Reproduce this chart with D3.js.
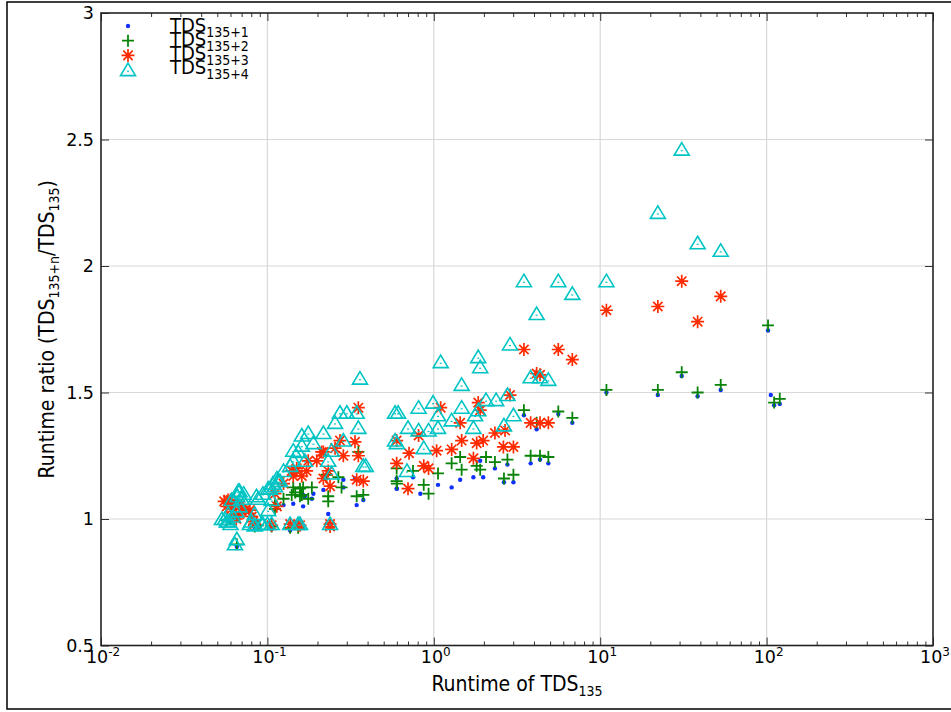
<!DOCTYPE html>
<html>
<head>
<meta charset="utf-8">
<script src="https://cdn.jsdelivr.net/npm/d3@7"></script>
<style>
body { margin: 0; background: #fff; }
</style>
</head>
<body>
<div id="chart"></div>
<script>

// values: [runtime of TDS135, runtime ratio]
var tds1 = [[102,1.745],[106,1.49],[111,1.45],[120,1.455],[53,1.51],[38.5,1.485],[30.9,1.565],[22.2,1.49],[10.9,1.50],[6.8,1.38],[5.6,1.415],[3.48,1.41],[4.15,1.355],
  [3.82,1.22],[4.35,1.235],[4.88,1.22],[2.77,1.215],[2.33,1.20],[1.90,1.23],[1.73,1.165],[1.98,1.165],[1.44,1.155],[1.28,1.125],[3.01,1.145],[2.64,1.145],[1.06,1.135],[0.83,1.10],[0.60,1.12],[0.75,1.165],
  [0.286,1.155],[0.286,1.125],[0.217,1.115],[0.189,1.10],[0.164,1.095],[0.143,1.06],[0.164,1.05],[0.125,1.055],[0.232,1.02],[0.344,1.055],[0.377,1.075],[0.598,1.16],[0.598,1.12],[0.336,1.16],[0.168,1.09],[0.185,1.08],[0.161,1.10],
  [0.060,0.99],[0.065,1.0],[0.070,1.04],[0.0655,0.89],[0.084,0.96],[0.106,0.96],[0.137,0.955]];

var tds2 = [[102,1.765],[111,1.46],[120,1.475],[53,1.53],[38.5,1.50],[30.9,1.58],[22.2,1.51],[10.9,1.51],[6.8,1.40],[5.6,1.425],[3.48,1.43],[4.15,1.38],
  [3.82,1.25],[4.35,1.25],[4.88,1.245],[2.77,1.235],[2.33,1.225],[2.06,1.245],[1.81,1.21],[1.90,1.195],[1.44,1.245],[1.47,1.195],[1.28,1.22],[3.01,1.175],[2.64,1.16],[1.06,1.18],[0.87,1.135],[0.93,1.10],[0.60,1.14],[0.75,1.19],
  [0.352,1.265],[0.267,1.165],[0.227,1.175],[0.279,1.125],[0.185,1.125],[0.164,1.125],[0.143,1.125],[0.161,1.095],[0.140,1.095],[0.176,1.08],[0.125,1.08],[0.111,1.055],[0.068,1.05],[0.232,1.07],[0.232,1.09],[0.344,1.09],[0.377,1.095],[0.598,1.20],[0.598,1.15],[0.157,1.09],
  [0.070,1.05],[0.111,1.04],[0.147,1.105],[0.157,1.12],[0.0655,0.90],[0.084,0.97],[0.088,0.975],[0.106,0.97],[0.137,0.965],[0.153,0.965],
  [0.060,1.0],[0.057,0.995],[0.064,1.02]];

var tds3 = [[30.9,1.94],[53,1.88],[22.2,1.84],[10.9,1.825],[38.5,1.78],[3.48,1.67],[5.6,1.67],[6.8,1.63],[4.15,1.575],[4.35,1.57],
  [1.10,1.44],[1.85,1.46],[2.87,1.49],[1.90,1.43],[1.44,1.38],[3.82,1.38],[4.35,1.38],[4.88,1.38],[2.68,1.35],[2.33,1.34],[0.81,1.33],[1.47,1.31],[1.81,1.30],[1.98,1.31],[0.71,1.26],[1.04,1.27],[1.28,1.275],[2.62,1.285],[3.01,1.285],[0.87,1.21],[0.93,1.20],[1.73,1.24],[0.70,1.12],
  [0.352,1.44],[0.273,1.31],[0.336,1.305],[0.217,1.265],[0.255,1.28],[0.286,1.25],[0.352,1.25],[0.198,1.23],[0.176,1.23],[0.150,1.20],[0.172,1.19],[0.143,1.17],[0.232,1.19],[0.217,1.16],[0.238,1.13],[0.344,1.155],[0.377,1.15],[0.125,1.14],[0.111,1.10],
  [0.060,1.075],[0.061,1.055],[0.068,1.05],[0.0785,1.035],[0.082,0.99],[0.238,0.98],[0.157,0.975],[0.238,0.97],[0.598,1.31],[0.598,1.22],[0.212,1.265],
  [0.0638,1.06],[0.058,1.075],[0.061,1.04],[0.0733,1.035],[0.0805,1.01],[0.114,1.05],[0.140,1.19],[0.150,1.19],[0.161,1.17],[0.084,0.98],[0.137,0.98],[0.153,0.975],[0.106,0.975],
  [0.055,1.07],[0.057,1.05],[0.065,1.0],[0.068,1.02]];

var tds4 = [[30.9,2.46],[22.2,2.21],[38.5,2.09],[53,2.06],[3.48,1.94],[5.6,1.94],[6.8,1.89],[10.9,1.94],[4.15,1.81],[2.87,1.69],[3.82,1.56],[4.35,1.56],[4.88,1.55],
  [1.10,1.62],[1.85,1.64],[1.90,1.60],[1.47,1.53],[0.61,1.42],[0.81,1.44],[0.99,1.46],[1.47,1.44],[2.06,1.47],[2.37,1.47],[2.77,1.49],[1.06,1.41],[1.28,1.39],[1.77,1.41],[1.85,1.43],[3.01,1.41],[0.70,1.36],[0.81,1.35],[0.93,1.35],[1.06,1.36],[1.73,1.36],[2.64,1.37],[0.60,1.30],[0.87,1.28],[0.69,1.19],
  [0.36,1.555],[0.273,1.42],[0.30,1.42],[0.344,1.42],[0.255,1.38],[0.176,1.34],[0.217,1.34],[0.352,1.36],[0.189,1.30],[0.286,1.31],[0.161,1.29],[0.143,1.27],[0.243,1.27],[0.143,1.23],[0.168,1.23],[0.232,1.23],[0.377,1.21],[0.39,1.21],
  [0.125,1.19],[0.116,1.15],[0.111,1.13],[0.101,1.12],[0.094,1.10],[0.086,1.09],[0.088,1.08],[0.068,1.11],[0.061,1.075],[0.062,1.01],[0.060,0.98],[0.0785,0.98],[0.094,0.98],[0.10,0.98],[0.137,0.98],[0.157,0.98],[0.238,0.98],[0.243,1.18],[0.585,1.42],[0.585,1.31],
  [0.0668,1.11],[0.058,0.99],[0.0655,0.92],[0.0638,0.90],[0.104,1.12],[0.108,1.14],[0.114,1.16],[0.137,1.21],[0.153,1.265],[0.161,1.33],[0.084,0.975],[0.080,0.99],[0.0925,0.98],[0.106,0.98],[0.153,0.98],[0.084,1.02],[0.101,1.035],[0.119,1.15],[0.106,1.075],
  [0.0556,1.0],[0.057,0.99],[0.0533,1.0],[0.058,1.02],[0.065,1.03],[0.068,1.05],[0.070,1.08],[0.072,1.10],[0.066,1.09]];

var legendSubs = ["135+1","135+2","135+3","135+4"];
var xTicks = [1e-2,1e-1,1,10,100,1000];
var xExponents = ["-2","-1","0","1","2","3"];
var yTicks = [0.5,1,1.5,2,2.5,3];
var yTickLabels = ["0.5","1","1.5","2","2.5","3"];

var W = 951, H = 712;
var pLeft = 101, pRight = 933, pTop = 13, pBottom = 645.5;
var condensed = "'DejaVu Sans Condensed', 'DejaVu Sans', sans-serif";
var regular = "'DejaVu Sans', sans-serif";

var x = d3.scaleLog().domain([1e-2, 1e3]).range([pLeft, pRight]);
var y = d3.scaleLinear().domain([0.5, 3]).range([pBottom, pTop]);

var svg = d3.select("#chart").append("svg")
  .attr("width", W)
  .attr("height", H);

svg.append("rect")
  .attr("x", 7).attr("y", 2)
  .attr("width", 980).attr("height", 707)
  .attr("fill", "none")
  .attr("stroke", "#000")
  .attr("stroke-width", 1.5);

// grid
svg.append("g").selectAll("line").data(xTicks.slice(1, -1))
  .enter().append("line")
  .attr("x1", function(d) { return x(d); }).attr("x2", function(d) { return x(d); })
  .attr("y1", pTop).attr("y2", pBottom)
  .attr("stroke", "#d8d8d8").attr("stroke-width", 1.2);
svg.append("g").selectAll("line").data(yTicks.slice(1, -1))
  .enter().append("line")
  .attr("y1", function(d) { return y(d); }).attr("y2", function(d) { return y(d); })
  .attr("x1", pLeft).attr("x2", pRight)
  .attr("stroke", "#d8d8d8").attr("stroke-width", 1.2);

// minor ticks on the log axis
var xMinor = [];
for (var e = -2; e < 3; e++) {
  for (var m = 2; m < 10; m++) xMinor.push(m * Math.pow(10, e));
}

function tickAxis(axis, tx, ty) {
  var g = svg.append("g").attr("transform", "translate(" + tx + "," + ty + ")").call(axis);
  g.select(".domain").remove();
  g.selectAll("line").attr("stroke", "#333");
  g.selectAll("text").remove();
}
tickAxis(d3.axisBottom(x).tickValues(xTicks).tickSize(-8).tickSizeOuter(0), 0, pBottom);
tickAxis(d3.axisBottom(x).tickValues(xMinor).tickSize(-4).tickSizeOuter(0), 0, pBottom);
tickAxis(d3.axisTop(x).tickValues(xTicks).tickSize(-8).tickSizeOuter(0), 0, pTop);
tickAxis(d3.axisTop(x).tickValues(xMinor).tickSize(-4).tickSizeOuter(0), 0, pTop);
tickAxis(d3.axisLeft(y).tickValues(yTicks).tickSize(-8).tickSizeOuter(0), pLeft, 0);
tickAxis(d3.axisRight(y).tickValues(yTicks).tickSize(-8).tickSizeOuter(0), pRight, 0);

// tick labels
var xl = svg.append("g").selectAll("text").data(xTicks)
  .enter().append("text")
  .attr("x", function(d) { return x(d) + 2; })
  .attr("y", 663)
  .attr("text-anchor", "middle")
  .style("font-family", regular)
  .style("font-size", "17.5px")
  .style("fill", "#000");
xl.append("tspan").text("10");
xl.append("tspan").attr("dy", -7).style("font-size", "12px").text(function(d, i) { return xExponents[i]; });

svg.append("g").selectAll("text").data(yTicks)
  .enter().append("text")
  .attr("x", 94)
  .attr("y", function(d) { return y(d) + 6; })
  .attr("text-anchor", "end")
  .style("font-family", regular)
  .style("font-size", "17.5px")
  .text(function(d, i) { return yTickLabels[i]; });

// axis titles
var xt = svg.append("text")
  .attr("x", (pLeft + pRight) / 2)
  .attr("y", 691)
  .attr("text-anchor", "middle")
  .style("font-family", condensed)
  .style("font-size", "21px");
xt.append("tspan").text("Runtime of TDS");
xt.append("tspan").attr("dy", 5).style("font-size", "14px").text("135");

var yt = svg.append("text")
  .attr("transform", "translate(54," + ((pTop + pBottom) / 2) + ")rotate(-90)")
  .attr("text-anchor", "middle")
  .style("font-family", condensed)
  .style("font-size", "21px");
yt.append("tspan").text("Runtime ratio (TDS");
yt.append("tspan").attr("dy", 5).style("font-size", "14px").text("135+n");
yt.append("tspan").attr("dy", -5).text("/TDS");
yt.append("tspan").attr("dy", 5).style("font-size", "14px").text("135");
yt.append("tspan").attr("dy", -5).text(")");

// marker shapes
function plusPath(s) {
  return "M" + (-s) + ",0H" + s + "M0," + (-s) + "V" + s;
}
function starPath(s) {
  var d = s * 0.72;
  return plusPath(s) + "M" + (-d) + "," + (-d) + "L" + d + "," + d + "M" + (-d) + "," + d + "L" + d + "," + (-d);
}
var triPath = "M0,-7L7.5,5.5L-7.5,5.5Z";

var series = [
  { data: tds1, color: "#1030ff" },
  { data: tds2, color: "#078407" },
  { data: tds3, color: "#ff2a00" },
  { data: tds4, color: "#00c4c4" }
];

function drawMarker(g, k, color) {
  if (k === 0) {
    g.append("circle").attr("r", 2.2).attr("fill", color);
  } else if (k === 1) {
    g.append("path").attr("d", plusPath(6)).attr("stroke", color).attr("stroke-width", 1.8).attr("fill", "none");
  } else if (k === 2) {
    g.append("path").attr("d", starPath(6.5)).attr("stroke", color).attr("stroke-width", 1.7).attr("fill", "none");
  } else {
    g.append("path").attr("d", triPath).attr("stroke", color).attr("stroke-width", 1.6).attr("fill", "none");
    g.append("rect").attr("x", -1).attr("y", 0.5).attr("width", 2).attr("height", 1.2).attr("fill", color);
  }
}

series.forEach(function(s, k) {
  svg.append("g").selectAll("g").data(s.data)
    .enter().append("g")
    .attr("transform", function(d) { return "translate(" + x(d[0]) + "," + y(d[1]) + ")"; })
    .each(function() { drawMarker(d3.select(this), k, s.color); });
});

// plot frame
svg.append("rect")
  .attr("x", pLeft).attr("y", pTop)
  .attr("width", pRight - pLeft).attr("height", pBottom - pTop)
  .attr("fill", "none")
  .attr("stroke", "#222")
  .attr("stroke-width", 1.6);

// legend
var legend = svg.append("g").attr("class", "legend");
legendSubs.forEach(function(sub, i) {
  var mg = legend.append("g").attr("transform", "translate(128," + (26 + i * 14.7) + ")");
  drawMarker(mg, i, series[i].color);
  var t = legend.append("text")
    .attr("x", 170)
    .attr("y", 32 + i * 14)
    .style("font-family", condensed)
    .style("font-size", "20px");
  t.append("tspan").text("TDS");
  t.append("tspan").attr("dy", 5).style("font-size", "14px").text(sub);
});

</script>
</body>
</html>
